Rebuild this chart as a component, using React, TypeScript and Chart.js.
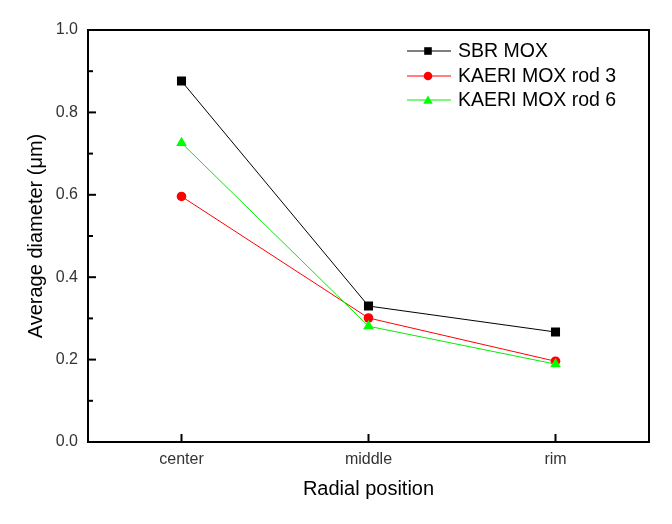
import { useEffect, useRef } from 'react';
import { Chart, registerables } from 'chart.js';

Chart.register(...registerables);

const categories = ['center', 'middle', 'rim'];
const seriesNames = ['SBR MOX', 'KAERI MOX rod 3', 'KAERI MOX rod 6'];
const sbrMox = [0.876, 0.33, 0.267];
const kaeriRod3 = [0.596, 0.301, 0.196];
const kaeriRod6 = [0.726, 0.281, 0.189];
const yMin = 0;
const yMax = 1;
const yStep = 0.1;
const xTitle = 'Radial position';
const yTitle = 'Average diameter (\u03bcm)';

const FONT = "'Liberation Sans', Arial, sans-serif";

function drawMarker(ctx: CanvasRenderingContext2D, style: string, x: number, y: number, r: number, color: string) {
  ctx.save();
  ctx.fillStyle = color;
  ctx.beginPath();
  if (style === 'rect') {
    ctx.rect(x - r, y - r, 2 * r, 2 * r);
  } else if (style === 'circle') {
    ctx.arc(x, y, r, 0, Math.PI * 2);
  } else {
    ctx.moveTo(x, y - r);
    ctx.lineTo(x + r * Math.sin(Math.PI / 3), y + r / 2);
    ctx.lineTo(x - r * Math.sin(Math.PI / 3), y + r / 2);
    ctx.closePath();
  }
  ctx.fill();
  ctx.restore();
}

const framePlugin = {
  id: 'frameTicksLegend',
  afterDraw(chart: any) {
    const { ctx, chartArea: a, scales } = chart;
    ctx.save();
    ctx.strokeStyle = '#000';
    ctx.lineWidth = 2;
    ctx.strokeRect(a.left, a.top, a.right - a.left, a.bottom - a.top);
    // y ticks (inward)
    scales.y.ticks.forEach((t: any) => {
      const py = scales.y.getPixelForValue(t.value);
      const major = Math.round(t.value * 10) % 2 === 0;
      const len = major ? 8 : 5;
      ctx.beginPath();
      ctx.moveTo(a.left, py);
      ctx.lineTo(a.left + len, py);
      ctx.stroke();
    });
    // x ticks (inward)
    categories.forEach((_c, i) => {
      const px = scales.x.getPixelForValue(i);
      ctx.beginPath();
      ctx.moveTo(px, a.bottom);
      ctx.lineTo(px, a.bottom - 8);
      ctx.stroke();
    });
    // legend
    const order = [0, 1, 2];
    const rowY = [51, 76, 100];
    const lineX0 = 407;
    const lineX1 = 451;
    const markX = 428;
    const textX = 458;
    ctx.font = `19.5px ${FONT}`;
    ctx.textBaseline = 'middle';
    ctx.textAlign = 'left';
    order.forEach((di, k) => {
      const ds = chart.data.datasets[di];
      const y = rowY[k];
      ctx.strokeStyle = ds.borderColor;
      ctx.lineWidth = 1;
      ctx.beginPath();
      ctx.moveTo(lineX0, y);
      ctx.lineTo(lineX1, y);
      ctx.stroke();
      const r = ds.pointStyle === 'rect' ? 3.8 : ds.pointStyle === 'circle' ? 4.3 : 5.5;
      drawMarker(ctx, ds.pointStyle, markX, ds.pointStyle === 'triangle' ? y + 1 : y, r, ds.pointBackgroundColor);
      ctx.fillStyle = '#000';
      ctx.fillText(ds.label, textX, y + 1);
    });
    ctx.restore();
  },
};

export default function App() {
  const ref = useRef<HTMLCanvasElement | null>(null);

  useEffect(() => {
    document.body.style.margin = '0';
    const canvas = ref.current;
    if (!canvas) return;
    const chart = new Chart(canvas, {
      type: 'line',
      data: {
        labels: categories,
        datasets: [
          {
            label: seriesNames[0],
            data: sbrMox,
            borderColor: '#000000',
            backgroundColor: '#000000',
            pointBackgroundColor: '#000000',
            pointBorderColor: '#000000',
            pointStyle: 'rect',
            pointRadius: 6.4,
            pointBorderWidth: 0,
            borderWidth: 1,
            order: 2,
          },
          {
            label: seriesNames[1],
            data: kaeriRod3,
            borderColor: '#ff0000',
            backgroundColor: '#ff0000',
            pointBackgroundColor: '#ff0000',
            pointBorderColor: '#ff0000',
            pointStyle: 'circle',
            pointRadius: 4.8,
            pointBorderWidth: 0,
            borderWidth: 1,
            order: 1,
          },
          {
            label: seriesNames[2],
            data: kaeriRod6,
            borderColor: '#00ee00',
            backgroundColor: '#00ff00',
            pointBackgroundColor: '#00ff00',
            pointBorderColor: '#00ff00',
            pointStyle: 'triangle',
            pointRadius: 6.2,
            pointBorderWidth: 0,
            borderWidth: 1,
            order: 0,
          },
        ],
      } as any,
      options: {
        responsive: false,
        animation: false,
        events: [],
        layout: { padding: { top: 30, right: 23, left: 0, bottom: 0 } },
        plugins: {
          legend: { display: false },
          tooltip: { enabled: false },
        },
        scales: {
          x: {
            type: 'category',
            offset: true,
            grid: { display: false, drawTicks: false },
            border: { display: false },
            ticks: {
              font: { family: FONT, size: 16 },
              color: '#333333',
              padding: 8,
              maxRotation: 0,
            },
            title: {
              display: true,
              text: xTitle,
              color: '#000000',
              font: { family: FONT, size: 20 },
              padding: { top: 0, bottom: 23 },
            },
            afterFit(scale: any) {
              scale.height = 82;
            },
          },
          y: {
            min: yMin,
            max: yMax,
            grid: { display: false, drawTicks: false },
            border: { display: false },
            ticks: {
              stepSize: yStep,
              autoSkip: false,
              font: { family: FONT, size: 16 },
              color: '#333333',
              padding: 10,
              callback: (v: any) => (Math.round(Number(v) * 10) % 2 === 0 ? Number(v).toFixed(1) : ''),
            },
            title: {
              display: true,
              text: yTitle,
              color: '#000000',
              font: { family: FONT, size: 20 },
              padding: { top: 24, bottom: 0 },
            },
            afterFit(scale: any) {
              scale.width = 88;
            },
          },
        },
      } as any,
      plugins: [framePlugin],
    });
    return () => chart.destroy();
  }, []);

  return (
    <div style={{ width: 672, height: 524, background: '#fff' }}>
      <canvas ref={ref} width={672} height={524} style={{ display: 'block', width: 672, height: 524 }} />
    </div>
  );
}
